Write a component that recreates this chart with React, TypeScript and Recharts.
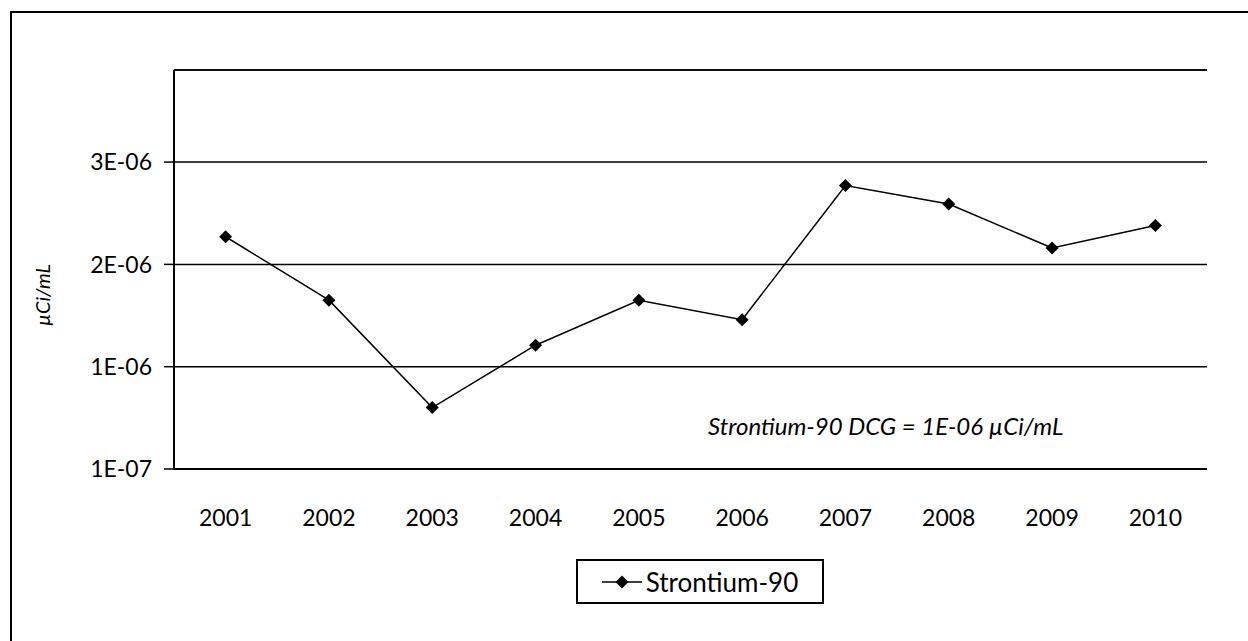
import React from "react";
import { LineChart, Line, XAxis, YAxis, CartesianGrid, Legend, ReferenceLine } from "recharts";

// Strontium-90 concentration by year (µCi/mL)
const years = ["2001", "2002", "2003", "2004", "2005", "2006", "2007", "2008", "2009", "2010"];
const strontium90 = [2.37e-6, 1.75e-6, 0.7e-6, 1.31e-6, 1.75e-6, 1.56e-6, 2.87e-6, 2.69e-6, 2.26e-6, 2.48e-6];

// y axis: starts at 1E-07 with a 1E-06 step (Excel shows them rounded)
const yTicks = [1e-7, 1.1e-6, 2.1e-6, 3.1e-6];
const yTickLabels = ["1E-07", "1E-06", "2E-06", "3E-06"];
const yMin = 1e-7;
const yMax = 4e-6;

const data = years.map((year, i) => ({ year, value: strontium90[i] }));
// tick marks sit between categories
const edgeTicks = [...years.map((_, i) => i), years.length];

const Diamond = (props: any) => {
  const { cx, cy } = props;
  if (cx == null || cy == null) return null;
  const r = 6.5;
  return <path d={`M${cx},${cy - r}L${cx + r},${cy}L${cx},${cy + r}L${cx - r},${cy}Z`} fill="#000" />;
};

const LegendBox = () => (
  <div
    style={{
      width: "100%",
      height: "100%",
      boxSizing: "border-box",
      border: "2px solid #000",
      background: "#fff",
      display: "flex",
      alignItems: "center",
      justifyContent: "center",
      gap: 4,
    }}
  >
    <svg width={40} height={16}>
      <line x1={0} y1={8} x2={40} y2={8} stroke="#000" strokeWidth={1.5} />
      <path d="M20,1.5L26.5,8L20,14.5L13.5,8Z" fill="#000" />
    </svg>
    <span style={{ fontSize: 26, color: "#000" }}>Strontium-90</span>
  </div>
);

export default function App() {
  return (
    <div style={{ position: "absolute", left: 0, top: 0, width: 1248, height: 641, background: "#fff", fontFamily: "Lato, sans-serif", overflow: "hidden" }}>
      <div style={{ position: "absolute", left: 10, top: 11, width: 1250, height: 640, borderLeft: "2px solid #000", borderTop: "2px solid #000" }} />
      <LineChart width={1248} height={641} data={data} margin={{ top: 70, right: 41, bottom: 0, left: 0 }} style={{ position: "absolute", left: 0, top: 0 }}>
        <CartesianGrid horizontal vertical={false} stroke="#000" strokeWidth={1.5} />
        <XAxis
          xAxisId="edges"
          type="number"
          domain={[0, years.length]}
          ticks={edgeTicks}
          height={0}
          tick={false}
          axisLine={false}
          tickSize={10}
          tickLine={{ stroke: "#000", strokeWidth: 1.5 }}
        />
        <XAxis
          dataKey="year"
          scale="band"
          height={172}
          tickLine={false}
          tickSize={0}
          tickMargin={41}
          axisLine={{ stroke: "#000", strokeWidth: 2 }}
          tick={{ fill: "#000", fontSize: 23 }}
          interval={0}
        />
        <YAxis
          width={174}
          domain={[yMin, yMax]}
          ticks={yTicks}
          tickFormatter={(_v: number, i: number) => yTickLabels[i]}
          tickSize={10}
          tickMargin={12}
          tickLine={{ stroke: "#000", strokeWidth: 1.5 }}
          axisLine={{ stroke: "#000", strokeWidth: 2 }}
          tick={{ fill: "#000", fontSize: 23 }}
        />
        <YAxis yAxisId="right" orientation="right" width={0} domain={[0, 1]} tick={false} tickLine={false} axisLine={{ stroke: "#000", strokeWidth: 1.5 }} />
        <ReferenceLine y={yMax} stroke="#000" strokeWidth={1.5} />
        <Legend
          verticalAlign="middle"
          align="center"
          layout="horizontal"
          wrapperStyle={{ position: "absolute", left: 576, top: 559, width: 248, height: 45 }}
          content={() => <LegendBox />}
        />
        <Line
          type="linear"
          dataKey="value"
          name="Strontium-90"
          stroke="#000"
          strokeWidth={1.5}
          dot={<Diamond />}
          activeDot={false}
          isAnimationActive={false}
        />
      </LineChart>
      <div style={{ position: "absolute", left: 708, top: 411, fontSize: 24, fontStyle: "italic", color: "#000", whiteSpace: "nowrap" }}>
        Strontium-90 DCG = 1E-06 µCi/mL
      </div>
      <div
        style={{
          position: "absolute",
          left: 42,
          top: 295,
          transform: "translate(-50%, -50%) rotate(-90deg)",
          fontSize: 20,
          fontStyle: "italic",
          color: "#000",
          whiteSpace: "nowrap",
        }}
      >
        µCi/mL
      </div>
    </div>
  );
}
